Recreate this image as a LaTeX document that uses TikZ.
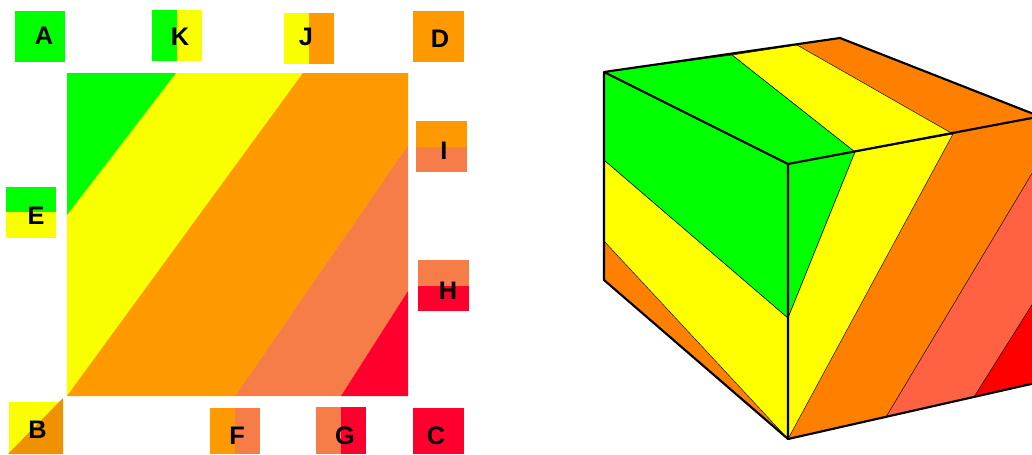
\documentclass[tikz,border=0pt]{standalone}
\usepackage{fontspec}
\setmainfont{Liberation Sans}
\definecolor{cgreen}{RGB}{0,255,0}
\definecolor{cyellow}{RGB}{255,255,0}
\definecolor{lyellow}{RGB}{250,255,0}
\definecolor{corange}{RGB}{255,153,0}
\definecolor{ccoral}{RGB}{247,125,72}
\definecolor{cred}{RGB}{255,0,46}
\definecolor{dorange}{RGB}{255,128,0}
\definecolor{dcoral}{RGB}{255,97,66}
\definecolor{dred}{RGB}{255,0,0}
\definecolor{bdark}{RGB}{240,146,0}
\tikzset{
  lbl/.style={font=\bfseries\fontsize{19}{19}\selectfont,text=black,inner sep=0pt},
  thin edge/.style={draw=black,line width=0.35pt},
  thick edge/.style={draw=black,line width=1.6pt,line cap=round,line join=round}
}
\begin{document}
\begin{tikzpicture}[x=0.75pt,y=-0.75pt]
\useasboundingbox (0,0) rectangle (1032,454);
% main square
\fill[lyellow] (67,73) rectangle (408,396);
\fill[cgreen] (67,73) -- (176,73) -- (67,215) -- cycle;
\fill[corange] (303,73) -- (408,73) -- (408,145) -- (235,396) -- (67,396) -- cycle;
\fill[ccoral] (408,145) -- (408,291) -- (341,396) -- (235,396) -- cycle;
\fill[cred] (408,291) -- (408,396) -- (341,396) -- cycle;
% swatches
\fill[cgreen] (15,11) rectangle (65,62);
\fill[cgreen] (152,10) rectangle (177,61);
\fill[lyellow] (177,10) rectangle (202,61);
\fill[lyellow] (284,13) rectangle (309,64);
\fill[corange] (309,13) rectangle (334,64);
\fill[corange] (413,11) rectangle (464,62);
\fill[corange] (416,121) rectangle (467,147);
\fill[ccoral] (416,147) rectangle (467,172);
\fill[ccoral] (418,260) rectangle (469,286);
\fill[cred] (418,286) rectangle (469,311);
\fill[cgreen] (6,187) rectangle (56,212);
\fill[lyellow] (6,212) rectangle (56,238);
\fill[lyellow] (9,402) rectangle (63,454);
\fill[bdark] (63,398) -- (63,454) -- (8,454) -- cycle;
\fill[corange] (210,408) rectangle (235,454);
\fill[ccoral] (235,408) rectangle (260,454);
\fill[ccoral] (316,407) rectangle (341,454);
\fill[cred] (341,407) rectangle (366,454);
\fill[cred] (413,408) rectangle (464,454);
% labels
\node[lbl] (A) at (44,35.5) {A};
\node[lbl] (K) at (180,37) {K};
\node[lbl] (J) at (306,37) {J};
\node[lbl] (D) at (440,39) {D};
\node[lbl] (I) at (444,151) {I};
\node[lbl] (H) at (448,290.5) {H};
\node[lbl] (E) at (36,216) {E};
\node[lbl] (B) at (37.5,430) {B};
\node[lbl] (F) at (237,436) {F};
\node[lbl] (G) at (345,435.5) {G};
\node[lbl] (C) at (436,436) {C};
% cube corners
\coordinate (p1) at (604,72);
\coordinate (p2) at (840,38);
\coordinate (p3) at (1040,116.5);
\coordinate (p4) at (788,164);
\coordinate (p5) at (604,280);
\coordinate (p6) at (788,439);
\coordinate (p7) at (1040,382);
% top face
\fill[dorange] (p1) -- (p2) -- (p3) -- (p4) -- cycle;
\filldraw[thin edge,fill=cyellow] (732,55) -- (797,45) -- (953,134) -- (855,152) -- cycle;
\filldraw[thin edge,fill=cgreen] (p1) -- (732,55) -- (855,152) -- (p4) -- cycle;
% left face
\fill[dorange] (p1) -- (p4) -- (p6) -- (p5) -- cycle;
\filldraw[thin edge,fill=cyellow] (604,160) -- (788,318) -- (p6) -- (604,241) -- cycle;
\filldraw[thin edge,fill=cgreen] (p1) -- (p4) -- (788,318) -- (604,160) -- cycle;
% right face
\fill[dorange] (p4) -- (p3) -- (p7) -- (p6) -- cycle;
\filldraw[thin edge,fill=cgreen] (p4) -- (855,152) -- (788,318) -- cycle;
\filldraw[thin edge,fill=cyellow] (855,152) -- (953,134) -- (p6) -- (788,318) -- cycle;
\filldraw[thin edge,fill=dcoral] (1040,160) -- (1040,382) -- (886,417) -- cycle;
\filldraw[thin edge,fill=dred] (1040,292) -- (1040,382) -- (974,397) -- cycle;
% edges
\draw[thick edge] (p4) -- (p1) -- (p2) -- (p3) -- (p4) -- (p6) -- (p5) -- (p1);
\draw[thick edge] (p6) -- (p7);
\end{tikzpicture}
\end{document}
